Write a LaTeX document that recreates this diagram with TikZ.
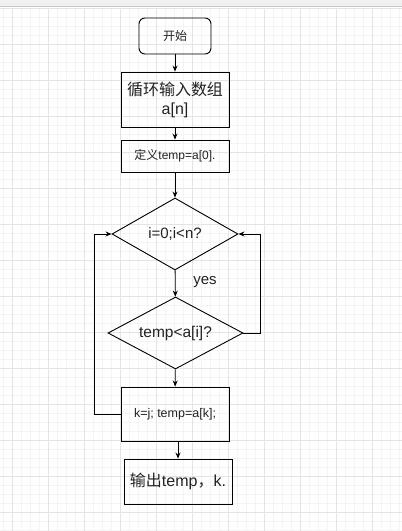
\documentclass[tikz,border=0pt]{standalone}
\usepackage{fontspec}
\setmainfont{Liberation Sans}
\newfontfamily\cjk{Noto Sans CJK SC}
\usetikzlibrary{shapes.geometric,arrows.meta}
\definecolor{gridmaj}{HTML}{E4E4E4}
\definecolor{gridmin}{HTML}{F4F4F4}
\definecolor{txt}{HTML}{222222}
\tikzset{
  box/.style={draw=black, line width=0.9pt, inner sep=0pt, text=txt, align=center},
  startbox/.style={box, rounded corners=6pt},
  decision/.style={draw=black, line width=0.9pt, shape=diamond, inner sep=0pt, text=txt},
  flow/.style={draw=black, line width=0.9pt, -{Stealth[length=6pt,width=5pt]}},
  lbl/.style={text=txt, inner sep=0pt}
}
\begin{document}
\begin{tikzpicture}[x=1pt,y=-1pt]
\useasboundingbox (0,0) rectangle (402,531);
\fill[white] (0,0) rectangle (402,531);
% minor grid
\foreach \i in {0,...,45} {
  \draw[gridmin, line width=0.6pt] ({3+9*\i},8) -- ({3+9*\i},531);
}
\foreach \i in {0,...,58} {
  \draw[gridmin, line width=0.6pt] (0,{8+9*\i}) -- (402,{8+9*\i});
}
% major grid
\foreach \i in {0,...,11} {
  \draw[gridmaj, line width=0.8pt] ({12+36*\i},8) -- ({12+36*\i},531);
}
\foreach \i in {0,...,14} {
  \draw[gridmaj, line width=0.8pt] (0,{8+36*\i}) -- (402,{8+36*\i});
}
% top band
\fill[gray!12] (0,0) rectangle (402,6);
\draw[gray!45, line width=1.2pt] (0,6.6) -- (402,6.6);

% nodes
\node[startbox, minimum width=72pt, minimum height=36pt, font=\fontsize{12pt}{14pt}\selectfont] (start) at (175,36) {\cjk 开始};
\node[box, minimum width=108pt, minimum height=55pt, font=\fontsize{16pt}{19pt}\selectfont] (input) at (175,99.5) {{\cjk 循环输入数组}\\a[n]};
\node[box, minimum width=108pt, minimum height=32pt, font=\fontsize{12pt}{14pt}\selectfont] (def) at (175,156) {{\cjk 定义}temp=a[0].};
\node[decision, shape aspect=1.75, minimum width=126pt, minimum height=72pt, font=\fontsize{15pt}{17pt}\selectfont] (d1) at (175,234) {i=0;i<n?};
\node[decision, shape aspect=1.875, minimum width=135pt, minimum height=72pt, font=\fontsize{15.5pt}{17pt}\selectfont] (d2) at (175.5,333) {temp<a[i]?};
\node[box, minimum width=108pt, minimum height=54pt, font=\fontsize{12.5pt}{14pt}\selectfont] (upd) at (175,414) {k=j; temp=a[k];};
\node[box, minimum width=108pt, minimum height=45pt, font=\fontsize{16pt}{19pt}\selectfont] (out) at (178,481.5) {{\cjk 输出}temp{\cjk ，}k.};
\node[lbl, font=\fontsize{15pt}{17pt}\selectfont] (yes) at (205,282) {yes};

% connectors
\draw[flow] (start) -- (input);
\draw[flow] (input) -- (def);
\draw[flow] (def) -- (d1);
\draw[flow] (d1) -- (d2);
\draw[flow] (d2) -- (upd);
\draw[flow] (out.north |- upd.south) -- (out.north);
\draw[flow] (d2.east) -- ++(17,0) |- (d1.east);
\draw[flow] (upd.west) -- ++(-26,0) |- (d1.west);
\end{tikzpicture}
\end{document}
